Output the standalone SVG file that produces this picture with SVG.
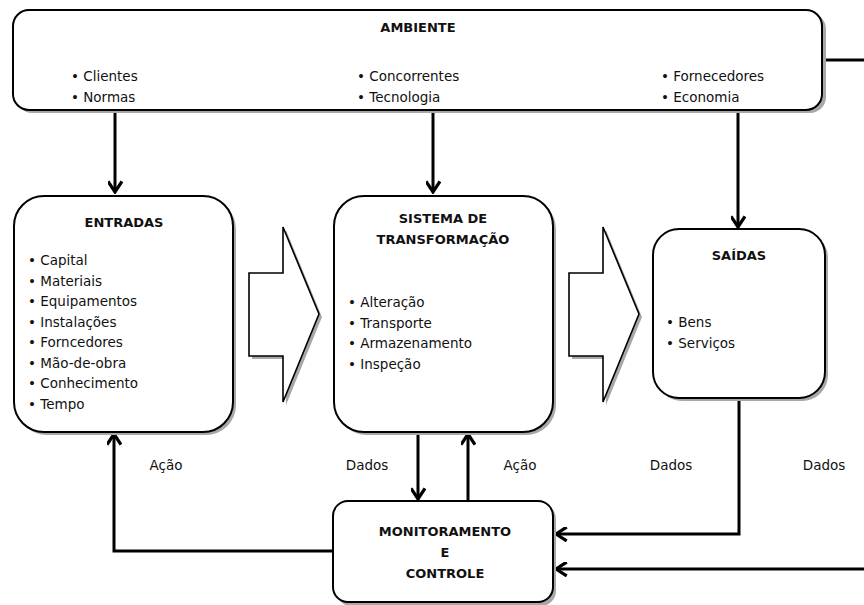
<svg xmlns="http://www.w3.org/2000/svg" width="864" height="605" viewBox="0 0 864 605">
  <defs>
    <marker id="chev" viewBox="0 0 14 14" refX="12" refY="7" markerWidth="15" markerHeight="15" markerUnits="userSpaceOnUse" orient="auto">
      <path d="M2,0.5 L12,7 L2,13.5" fill="none" stroke="#000" stroke-width="3"/>
    </marker>
  </defs>
  <style>
    .shadow { fill: #a8a8a8; }
    .box { fill: #fff; stroke: #000; stroke-width: 2; }
    .flow { fill: #fff; stroke: #000; stroke-width: 1.6; stroke-linejoin: miter; }
    .conn { fill: none; stroke: #000; stroke-width: 3; }
    .title { font-family: "DejaVu Sans", Verdana, sans-serif; font-size: 13px; font-weight: bold; fill: #111; text-anchor: middle; }
    .item { font-family: "DejaVu Sans", Verdana, sans-serif; font-size: 13.5px; fill: #111; }
    .lbl { font-family: "DejaVu Sans", Verdana, sans-serif; font-size: 13.5px; fill: #111; text-anchor: middle; }
  </style>
  <rect width="864" height="605" fill="#fff"/>

  <!-- connectors -->
  <g id="connectors">
    <path class="conn" d="M822,60 H864"/>
    <path class="conn" d="M115,110 V192" marker-end="url(#chev)"/>
    <path class="conn" d="M433,110 V192" marker-end="url(#chev)"/>
    <path class="conn" d="M738,110 V227" marker-end="url(#chev)"/>
    <path class="conn" d="M418,432 V499" marker-end="url(#chev)"/>
    <path class="conn" d="M468,501 V434" marker-end="url(#chev)"/>
    <path class="conn" d="M333,551 H114 V434" marker-end="url(#chev)"/>
    <path class="conn" d="M739,398 V534 H556" marker-end="url(#chev)"/>
    <path class="conn" d="M864,569 H556" marker-end="url(#chev)"/>
  </g>

  <!-- ambiente -->
  <g id="ambiente">
    <rect class="shadow" x="16" y="13" width="810" height="100" rx="16"/>
    <rect class="box" x="13" y="10" width="809" height="100" rx="16"/>
    <text class="title" x="418" y="32">AMBIENTE</text>
    <text class="item" x="71" y="81">• Clientes</text>
    <text class="item" x="71" y="102">• Normas</text>
    <text class="item" x="357" y="81">• Concorrentes</text>
    <text class="item" x="357" y="102">• Tecnologia</text>
    <text class="item" x="661" y="81">• Fornecedores</text>
    <text class="item" x="661" y="102">• Economia</text>
  </g>

  <!-- entradas -->
  <g id="entradas">
    <rect class="shadow" x="17" y="199" width="219" height="236" rx="30"/>
    <rect class="box" x="14" y="196" width="219" height="236" rx="30"/>
    <text class="title" x="124" y="227">ENTRADAS</text>
    <text class="item" x="28" y="265">• Capital</text>
    <text class="item" x="28" y="285.5">• Materiais</text>
    <text class="item" x="28" y="306">• Equipamentos</text>
    <text class="item" x="28" y="326.5">• Instalações</text>
    <text class="item" x="28" y="347">• Forncedores</text>
    <text class="item" x="28" y="367.5">• Mão-de-obra</text>
    <text class="item" x="28" y="388">• Conhecimento</text>
    <text class="item" x="28" y="408.5">• Tempo</text>
  </g>

  <!-- flow arrow entradas to sistema -->
  <g id="flow1">
    <polygon class="shadow" points="252,276 286,276 286,230 322,317 286,405 286,359 252,359"/>
    <polygon class="flow" points="249,273 283,273 283,227 319,314 283,402 283,356 249,356"/>
  </g>

  <!-- sistema de transformacao -->
  <g id="sistema">
    <rect class="shadow" x="337" y="199" width="219" height="236" rx="30"/>
    <rect class="box" x="334" y="196" width="219" height="236" rx="30"/>
    <text class="title" x="443" y="223">SISTEMA DE</text>
    <text class="title" x="443" y="244">TRANSFORMAÇÃO</text>
    <text class="item" x="348" y="307">• Alteração</text>
    <text class="item" x="348" y="327.5">• Transporte</text>
    <text class="item" x="348" y="348">• Armazenamento</text>
    <text class="item" x="348" y="368.5">• Inspeção</text>
  </g>

  <!-- flow arrow sistema to saidas -->
  <g id="flow2">
    <polygon class="shadow" points="572,276 606,276 606,230 642,317 606,405 606,359 572,359"/>
    <polygon class="flow" points="569,273 603,273 603,227 639,314 603,402 603,356 569,356"/>
  </g>

  <!-- saidas -->
  <g id="saidas">
    <rect class="shadow" x="656" y="232" width="172" height="169" rx="26"/>
    <rect class="box" x="653" y="229" width="172" height="169" rx="26"/>
    <text class="title" x="739" y="260">SAÍDAS</text>
    <text class="item" x="666" y="327">• Bens</text>
    <text class="item" x="666" y="348">• Serviços</text>
  </g>

  <!-- monitoramento e controle -->
  <g id="monitoramento">
    <rect class="shadow" x="336" y="504" width="220" height="102" rx="15"/>
    <rect class="box" x="333" y="501" width="220" height="101" rx="15"/>
    <text class="title" x="445" y="536">MONITORAMENTO</text>
    <text class="title" x="445" y="557">E</text>
    <text class="title" x="445" y="578">CONTROLE</text>
  </g>

  <!-- connector labels -->
  <g id="labels">
    <text class="lbl" x="166" y="470">Ação</text>
    <text class="lbl" x="367" y="470">Dados</text>
    <text class="lbl" x="520" y="470">Ação</text>
    <text class="lbl" x="671" y="470">Dados</text>
    <text class="lbl" x="824" y="470">Dados</text>
  </g>
</svg>
